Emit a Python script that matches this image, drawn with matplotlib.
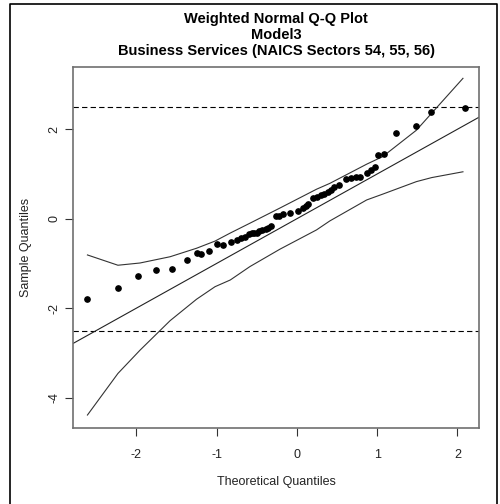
import numpy as np
import matplotlib.pyplot as plt
from matplotlib.lines import Line2D

plt.rcParams['font.family'] = ['Liberation Sans', 'DejaVu Sans']
plt.rcParams['axes.unicode_minus'] = False

# data
theo = [-2.61, -2.235, -1.98, -1.75, -1.56, -1.37, -1.25, -1.19, -1.10, -1.00,
        -0.925, -0.82, -0.74, -0.70, -0.645, -0.60, -0.56, -0.535, -0.50, -0.47,
        -0.43, -0.39, -0.36, -0.32, -0.26, -0.22, -0.17, -0.09, 0.01, 0.08,
        0.11, 0.14, 0.20, 0.25, 0.30, 0.34, 0.39, 0.43, 0.46, 0.52,
        0.61, 0.67, 0.74, 0.79, 0.87, 0.93, 0.97, 1.01, 1.09, 1.24,
        1.48, 1.67, 2.09]
sample = [-1.80, -1.56, -1.28, -1.15, -1.13, -0.93, -0.77, -0.78, -0.72, -0.57,
          -0.59, -0.51, -0.47, -0.43, -0.40, -0.35, -0.33, -0.33, -0.31, -0.28,
          -0.26, -0.23, -0.20, -0.17, 0.05, 0.06, 0.11, 0.12, 0.17, 0.23,
          0.28, 0.34, 0.46, 0.49, 0.53, 0.56, 0.60, 0.65, 0.72, 0.75,
          0.89, 0.90, 0.93, 0.93, 1.03, 1.10, 1.16, 1.42, 1.45, 1.91,
          2.07, 2.39, 2.47]

# confidence envelope
band_x = [-2.61, -2.23, -1.955, -1.58, -1.25, -1.02, -0.83, -0.585, -0.21, 0.245,
          0.41, 0.87, 1.07, 1.49, 1.68, 2.07]
band_hi = [-0.81, -1.04, -0.99, -0.85, -0.66, -0.50, -0.32, -0.10, 0.24, 0.66,
           0.79, 1.22, 1.39, 1.98, 2.36, 3.14]
band_lo = [-4.39, -3.46, -2.94, -2.28, -1.80, -1.52, -1.37, -1.07, -0.68, -0.25,
           -0.05, 0.42, 0.55, 0.83, 0.92, 1.05]

cutoff = 2.5
title_lines = ['Weighted Normal Q-Q Plot', 'Model3',
               'Business Services (NAICS Sectors 54, 55, 56)']

fig = plt.figure(figsize=(5.0, 5.04), dpi=100)
ax = fig.add_axes([73/500, 76/504, 406/500, 361.3/504])

ax.axhline(cutoff, color='black', lw=0.8, dashes=(4.8, 2.9))
ax.axhline(-cutoff, color='black', lw=0.8, dashes=(4.8, 2.9))
ax.axline((0, 0), slope=1, color='#222222', lw=0.8)
ax.plot(band_x, band_hi, color='#333333', lw=0.8)
ax.plot(band_x, band_lo, color='#333333', lw=0.8)
ax.plot(theo, sample, 'o', color='black', ms=3.8, mec='black')

ax.set_xlim(-2.79, 2.27)
ax.set_ylim(-4.68, 3.40)
ax.set_xticks([-2, -1, 0, 1, 2])
ax.set_yticks([-4, -2, 0, 2])
for s in ax.spines.values():
    s.set_color('#707070')
    s.set_linewidth(1.2)
ax.tick_params(length=6, width=0.8, color='#333333', labelsize=9, labelcolor='#222222')
ax.tick_params(axis='x', pad=9)
ax.tick_params(axis='y', pad=3)
for t in ax.get_yticklabels():
    t.set_rotation(90)
    t.set_va('center')

ax.set_xlabel('Theoretical Quantiles', fontsize=9, color='#222222')
ax.set_ylabel('Sample Quantiles', fontsize=9, color='#222222')
ax.xaxis.set_label_coords(0.5, -54/361.3)
ax.yaxis.set_label_coords(-47/406, 0.5)
ax.xaxis.label.set_va('center')
ax.yaxis.label.set_va('center')

cx = (73 + 479) / 2 / 500
for i, line in enumerate(title_lines):
    fig.text(cx, 1 - (19.5 + 15.5*i)/504, line, ha='center', va='center',
             fontsize=10.5, fontweight='bold')

# outer frame of the screenshot
fx = [10/500, 10/500, 497/500, 497/500]
fy = [0, 1 - 4/504, 1 - 4/504, 0]
fig.add_artist(Line2D(fx, fy, transform=fig.transFigure, color='black', lw=1.2))

fig.savefig('out.png', dpi=100)
